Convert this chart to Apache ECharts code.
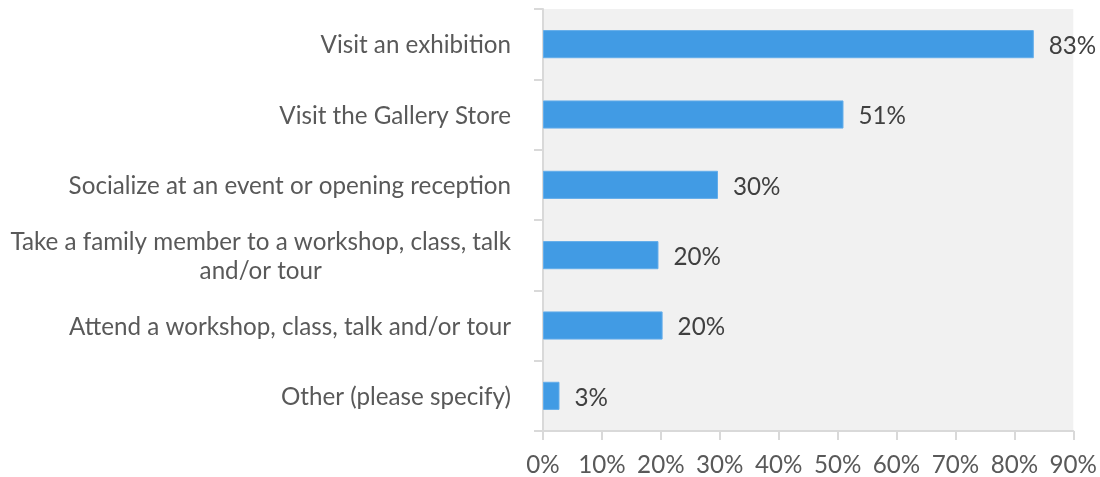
<!DOCTYPE html>
<html>
<head>
<meta charset="utf-8">
<script src="https://cdn.jsdelivr.net/npm/echarts@6/dist/echarts.min.js"></script>
<style>
  html, body { margin: 0; padding: 0; background: #ffffff; }
  #chart { width: 1100px; height: 477px; }
</style>
</head>
<body>
<div id="chart"></div>
<script>
// Survey answers, top to bottom
const categories = [
  'Visit an exhibition',
  'Visit the Gallery Store',
  'Socialize at an event or opening reception',
  'Take a family member to a workshop, class, talk\nand/or tour',
  'Attend a workshop, class, talk and/or tour',
  'Other (please specify)'
];
// Share of respondents, percent
const shares = [83.3, 51.0, 29.7, 19.6, 20.3, 2.8];
// Value axis ticks
const axisMax = 90;
const axisStep = 10;

const FONT = 'Lato, "Open Sans", sans-serif';
const FS = 24.2;
const chart = echarts.init(document.getElementById('chart'), null, { renderer: 'canvas' });

chart.setOption({
  animation: false,
  backgroundColor: '#ffffff',
  grid: {
    left: 543, right: 26, top: 9, bottom: 45,
    show: true, backgroundColor: '#f1f1f1', borderWidth: 0
  },
  xAxis: {
    type: 'value',
    min: 0, max: axisMax, interval: axisStep,
    axisLine: { show: true, lineStyle: { color: '#d9d9d9', width: 2 } },
    axisTick: { show: true, length: 9, lineStyle: { color: '#d9d9d9', width: 2 } },
    splitLine: { show: false },
    axisLabel: {
      margin: 22,
      formatter: '{value}%',
      color: '#595959', fontSize: FS, fontFamily: FONT
    }
  },
  yAxis: {
    type: 'category',
    inverse: true,
    data: categories,
    axisLine: { show: true, lineStyle: { color: '#d9d9d9', width: 2 } },
    axisTick: { show: true, length: 9, lineStyle: { color: '#d9d9d9', width: 2 } },
    axisLabel: {
      margin: 32,
      padding: [3, 0, 0, 0],
      color: '#595959', fontSize: FS, fontFamily: FONT,
      formatter: function (v) {
        return v.split('\n').map(function (s) { return '{c|' + s + '}'; }).join('\n');
      },
      rich: {
        c: { align: 'center', color: '#595959', fontSize: FS, fontFamily: FONT, lineHeight: 29 }
      }
    }
  },
  series: [{
    type: 'bar',
    data: shares,
    barCategoryGap: '60%',
    itemStyle: { color: '#419be4', borderColor: '#63adea', borderWidth: 1 },
    label: {
      show: true, position: 'right', distance: 15, offset: [0, 2],
      color: '#404040', fontSize: FS, fontFamily: FONT,
      formatter: function (p) { return Math.round(p.value) + '%'; }
    }
  }]
});
</script>
</body>
</html>
